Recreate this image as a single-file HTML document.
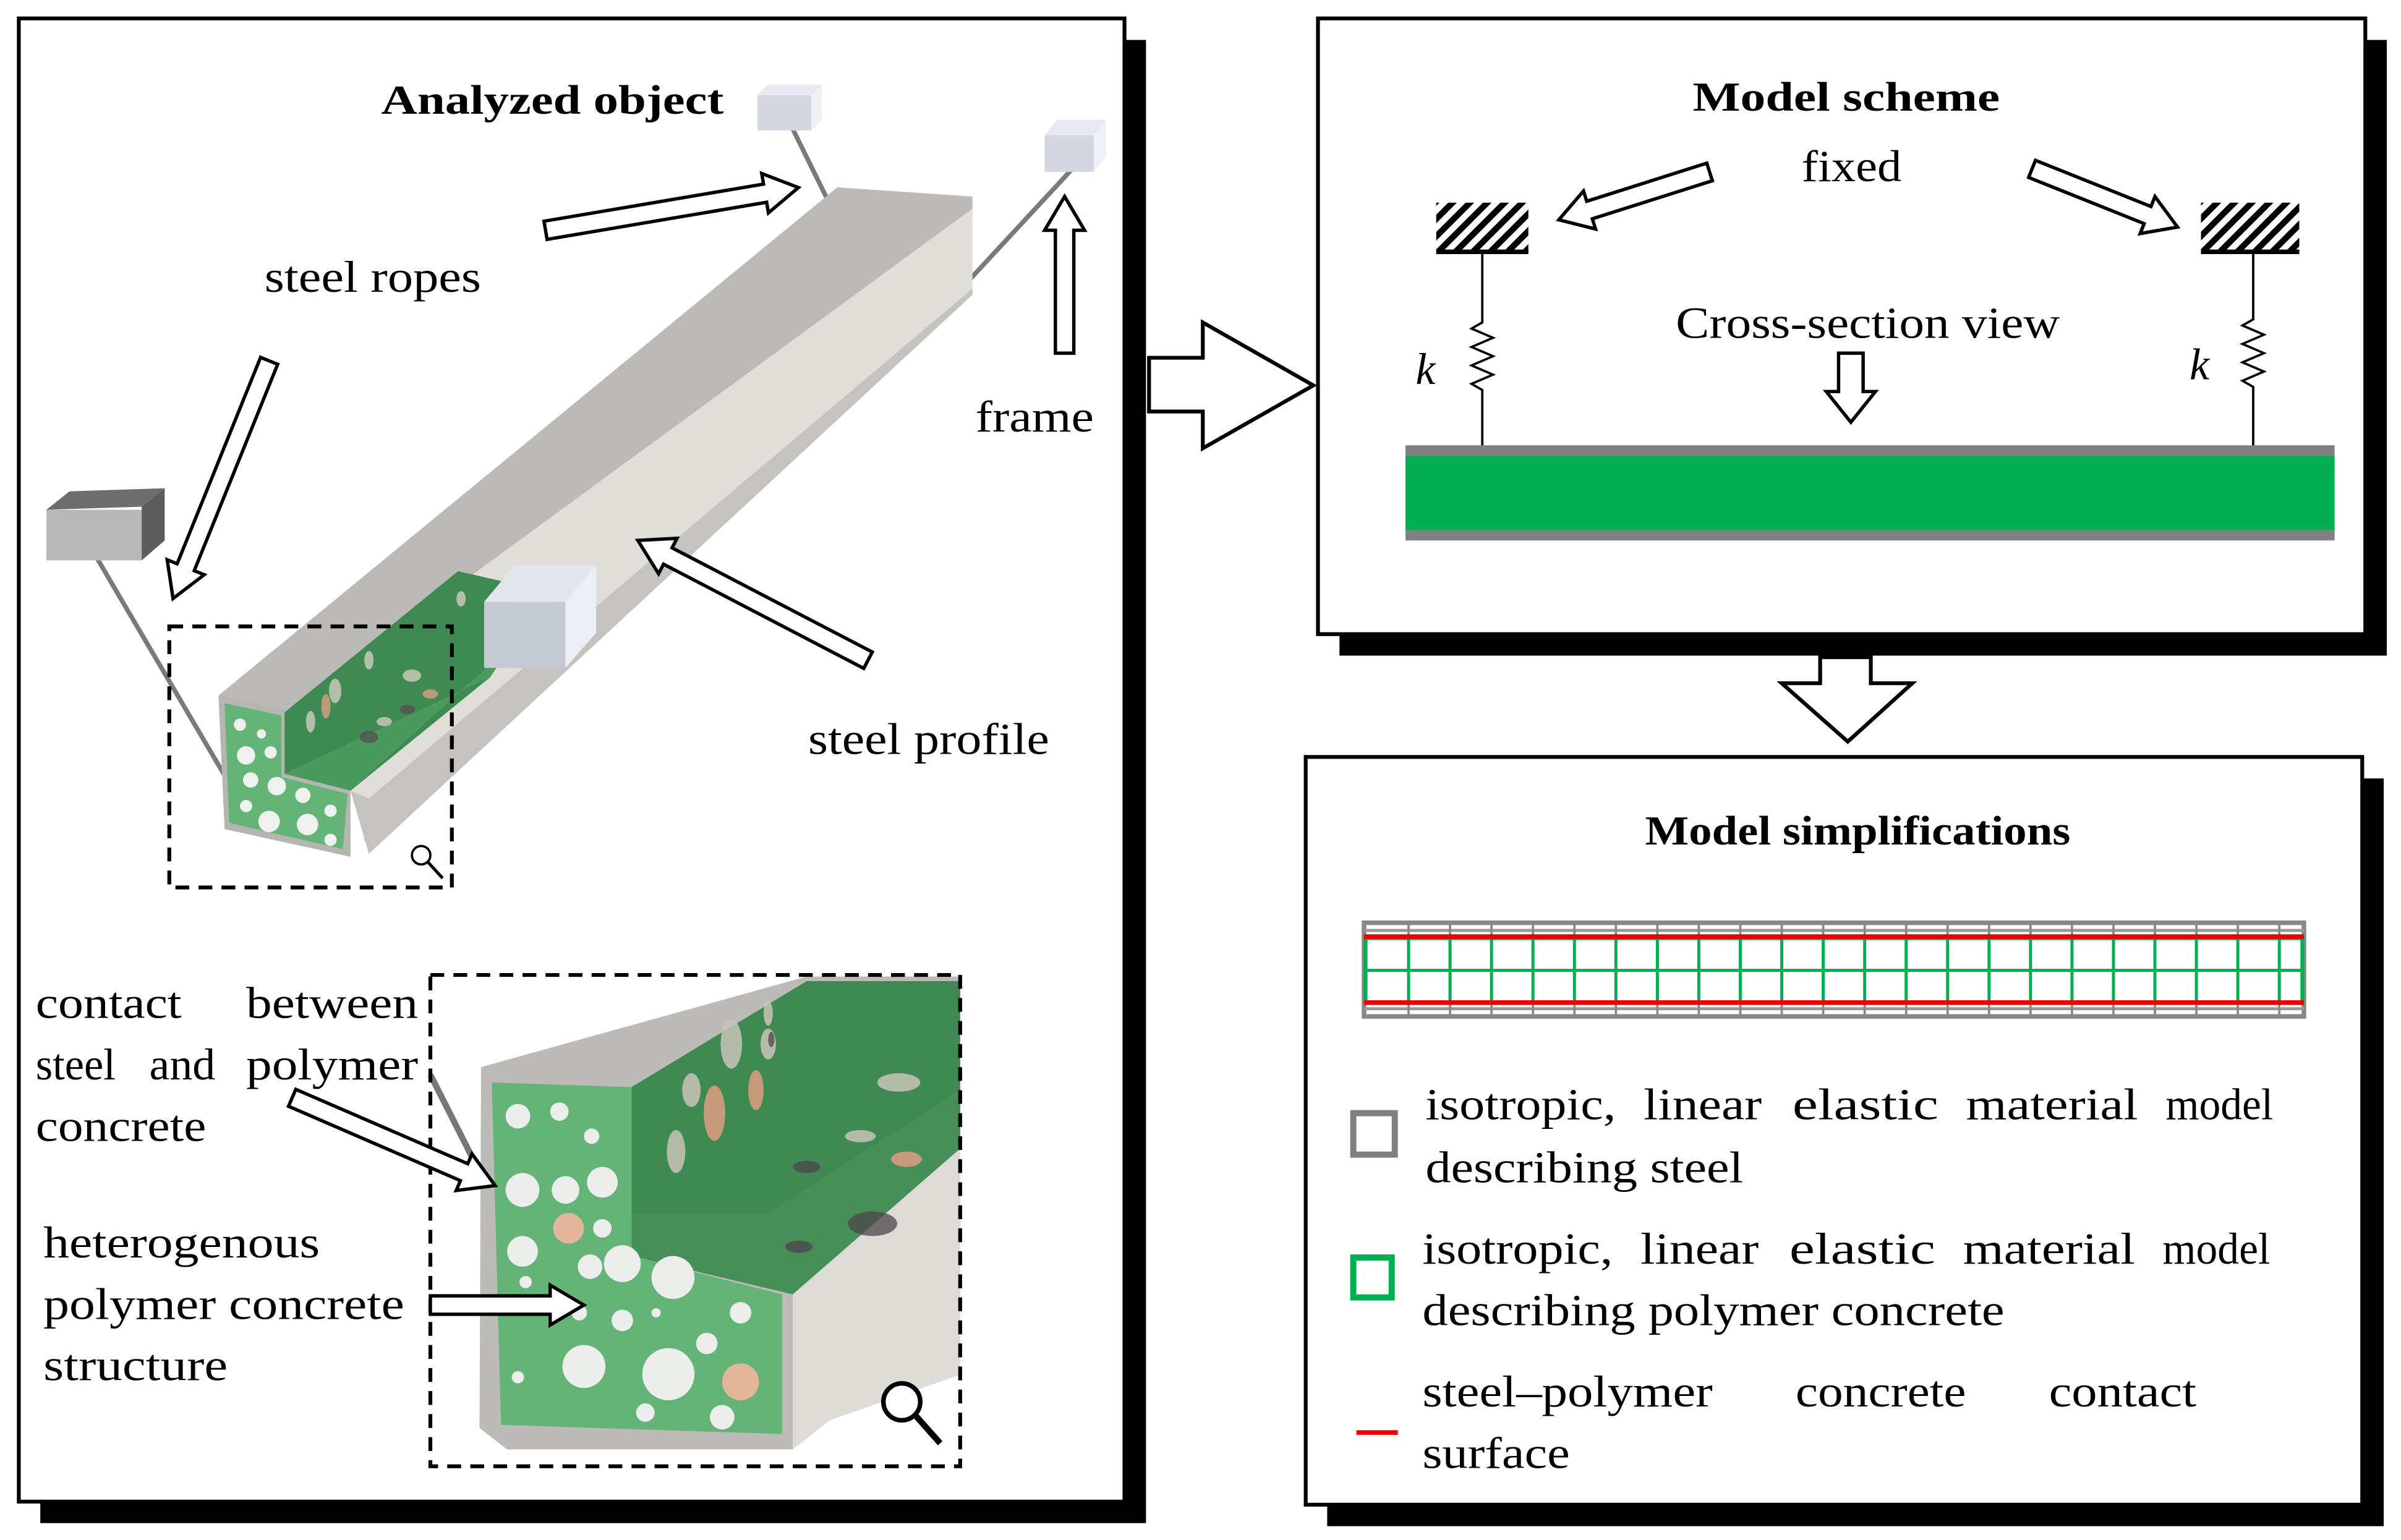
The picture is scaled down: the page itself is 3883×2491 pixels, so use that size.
<!DOCTYPE html>
<html><head><meta charset="utf-8"><style>
html,body{margin:0;padding:0;background:#fff;}
svg{display:block;}
text{font-family:"Liberation Serif",serif;fill:#000;}
</style></head><body>
<svg width="3883" height="2491" viewBox="0 0 1563 1003" xmlns="http://www.w3.org/2000/svg">
<defs>
<pattern id="hatch" width="8" height="8" patternUnits="userSpaceOnUse" patternTransform="rotate(45)"><rect width="4" height="8" fill="#000"/></pattern>
<clipPath id="dclip"><rect x="280" y="635" width="345" height="320"/></clipPath>
</defs>
<rect width="1563" height="1003" fill="#fff"/>

<!-- Panels with shadows -->
<rect x="26" y="26" width="720" height="966" fill="#000"/>
<rect x="12" y="12" width="720" height="966" fill="#fff" stroke="#000" stroke-width="2.5"/>
<rect x="872" y="26" width="682" height="401" fill="#000"/>
<rect x="858" y="12" width="682" height="401" fill="#fff" stroke="#000" stroke-width="2.5"/>
<rect x="864" y="507" width="688" height="487" fill="#000"/>
<rect x="850" y="493" width="688" height="487" fill="#fff" stroke="#000" stroke-width="2.5"/>

<!-- big right arrow -->
<polygon points="748,233 783,233 783,210 855,251 783,292 783,268 748,268" fill="#fff" stroke="#000" stroke-width="2.5"/>
<!-- down arrow -->
<polygon points="1185,428 1218,428 1218,445 1245,445 1203,483 1160,445 1185,445" fill="#fff" stroke="#000" stroke-width="2.5"/>

<!-- ===== Left panel ===== -->
<text x="248" y="74" font-size="27" font-weight="bold" textLength="223" lengthAdjust="spacingAndGlyphs">Analyzed object</text>

<!-- ropes -->
<g stroke="#7a7a7a" stroke-width="3" fill="none">
<line x1="62" y1="362" x2="146" y2="505"/>
<line x1="515" y1="82" x2="546" y2="145"/>
<line x1="698" y1="110" x2="622" y2="192"/>
<line x1="330" y1="432" x2="238" y2="548"/>
</g>
<!-- beam -->
<polygon points="142,453 545,122 633,128 633,136 185,464" fill="#bcbab6"/>
<polygon points="185,464 633,136 633,192 240,556 228,515" fill="#dfded9"/>
<polygon points="228,515 240,520 633,188 633,192 240,556" fill="#c4c3bf"/>
<polygon points="185,464 298,372 333,380 319,441 228,515 185,504" fill="#3f8a52"/>
<polygon points="185,504 319,441 333,420 228,515" fill="#4a9a5e"/>
<polygon points="142,453 185,462 185,504 228,515 228,558 146,540" fill="#b5b5b2"/>
<polygon points="146,458 183,466 183,506 226,517 223,553 149,536" fill="#65b477"/>
<g fill="#eef1ee">
<circle cx="156" cy="472" r="4"/><circle cx="170" cy="478" r="3"/><circle cx="160" cy="492" r="6"/><circle cx="176" cy="490" r="4"/><circle cx="163" cy="508" r="5"/><circle cx="180" cy="512" r="6"/><circle cx="197" cy="518" r="5"/><circle cx="160" cy="525" r="4"/><circle cx="175" cy="535" r="7"/><circle cx="200" cy="537" r="7"/><circle cx="215" cy="528" r="4"/><circle cx="215" cy="547" r="4"/>
</g>
<g fill="#c8c8b8" opacity="0.85">
<ellipse cx="202" cy="470" rx="3" ry="7"/><ellipse cx="218" cy="450" rx="4" ry="8"/><ellipse cx="240" cy="430" rx="3" ry="6"/><ellipse cx="268" cy="440" rx="6" ry="4"/><ellipse cx="250" cy="470" rx="5" ry="3"/><ellipse cx="300" cy="390" rx="3" ry="5"/>
</g>
<g fill="#d8a080" opacity="0.8"><ellipse cx="212" cy="460" rx="3" ry="8"/><ellipse cx="280" cy="452" rx="5" ry="3"/></g>
<g fill="#554a50" opacity="0.7"><ellipse cx="240" cy="480" rx="6" ry="4"/><ellipse cx="265" cy="462" rx="5" ry="3"/></g>
<!-- boxes -->
<polygon points="30,332 45,320 107,318 92,330" fill="#6d6d6d"/>
<rect x="30" y="332" width="62" height="33" fill="#b8b8b8"/>
<polygon points="92,330 107,318 107,352 92,365" fill="#5d5d5d"/>
<polygon points="315,392 335,368 388,368 368,392" fill="#e4e6ee"/>
<rect x="315" y="392" width="53" height="43" fill="#c6cad4"/>
<polygon points="368,392 388,368 388,412 368,435" fill="#eceef4"/>
<polygon points="493,62 500,55 535,55 528,62" fill="#e8e8f0"/>
<rect x="493" y="62" width="35" height="23" fill="#d4d6e0"/>
<polygon points="528,62 535,55 535,78 528,85" fill="#eef0f6"/>
<polygon points="680,88 688,78 720,78 712,88" fill="#e8e8f0"/>
<rect x="680" y="88" width="32" height="24" fill="#d4d6e0"/>
<polygon points="712,88 720,78 720,102 712,112" fill="#eef0f6"/>

<!-- dashed box small -->
<rect x="110" y="408" width="184" height="170" fill="none" stroke="#000" stroke-width="2.5" stroke-dasharray="9,6"/>
<circle cx="274" cy="557" r="6" fill="#fff" stroke="#000" stroke-width="1.5"/>
<line x1="278" y1="561" x2="288" y2="572" stroke="#000" stroke-width="2"/>

<!-- zoom detail -->
<line x1="280" y1="700" x2="318" y2="775" stroke="#777" stroke-width="4"/>
<g clip-path="url(#dclip)">
<line x1="540" y1="920" x2="630" y2="880" stroke="#777" stroke-width="5"/>
<polygon points="313,695 525,636 640,636 640,890 540,925 516,944 330,944 312,930" fill="#bdbbb7"/>
<polygon points="411,708 525,639 640,639 640,735 516,843 411,818" fill="#3f8a52"/>
<polygon points="411,818 516,843 640,735 640,700 500,790 411,790" fill="#468f58"/>
<polygon points="516,843 640,735 640,890 540,925 516,944" fill="#dcdbd6"/>
<polygon points="320,705 411,708 411,818 509,843 509,934 326,928" fill="#65b477"/>
<g fill="#eceeec">
<circle cx="337" cy="727" r="8"/><circle cx="364" cy="724" r="6"/><circle cx="385" cy="740" r="5"/><circle cx="340" cy="775" r="11"/><circle cx="368" cy="775" r="9"/><circle cx="392" cy="770" r="10"/><circle cx="392" cy="800" r="6"/><circle cx="340" cy="815" r="10"/><circle cx="384" cy="825" r="8"/><circle cx="405" cy="823" r="12"/><circle cx="438" cy="832" r="14"/><circle cx="342" cy="835" r="4"/><circle cx="377" cy="855" r="5"/><circle cx="405" cy="860" r="7"/><circle cx="427" cy="855" r="3"/><circle cx="482" cy="855" r="7"/><circle cx="460" cy="875" r="7"/><circle cx="380" cy="890" r="14"/><circle cx="435" cy="895" r="17"/><circle cx="337" cy="897" r="4"/><circle cx="420" cy="920" r="6"/><circle cx="470" cy="923" r="8"/>
</g>
<g fill="#e3b59a"><circle cx="370" cy="800" r="10"/><circle cx="482" cy="900" r="12"/></g>
<g fill="#c9c4b8" opacity="0.85">
<ellipse cx="450" cy="710" rx="6" ry="11"/><ellipse cx="476" cy="680" rx="7" ry="16"/><ellipse cx="500" cy="680" rx="5" ry="10"/><ellipse cx="440" cy="750" rx="6" ry="14"/><ellipse cx="585" cy="705" rx="14" ry="6"/><ellipse cx="560" cy="740" rx="10" ry="4"/><ellipse cx="500" cy="660" rx="3" ry="8"/>
</g>
<g fill="#de9d80" opacity="0.85"><ellipse cx="465" cy="725" rx="7" ry="18"/><ellipse cx="492" cy="710" rx="5" ry="13"/><ellipse cx="590" cy="755" rx="10" ry="5"/></g>
<g fill="#4f4449" opacity="0.75"><ellipse cx="568" cy="797" rx="16" ry="8"/><ellipse cx="525" cy="760" rx="9" ry="4"/><ellipse cx="520" cy="812" rx="9" ry="4"/><ellipse cx="502" cy="677" rx="2" ry="5"/></g>
</g>
<rect x="280" y="635" width="345" height="320" fill="none" stroke="#000" stroke-width="2.5" stroke-dasharray="9,6"/>
<circle cx="587" cy="913" r="12" fill="#fff" stroke="#000" stroke-width="3"/>
<line x1="596" y1="922" x2="612" y2="940" stroke="#000" stroke-width="4"/>

<!-- hollow arrows -->
<g fill="#fff" stroke="#000" stroke-width="2.2">
<polygon transform="translate(355,150) rotate(-9.6)" points="0,-6 145,-6 145,-13 167,0 145,13 145,6 0,6"/>
<polygon transform="translate(175,235) rotate(112)" points="0,-6 145,-6 145,-13 167,0 145,13 145,6 0,6"/>
<polygon transform="translate(693,230) rotate(-90)" points="0,-6 80,-6 80,-13 102,0 80,13 80,6 0,6"/>
<polygon transform="translate(565,430) rotate(207.5)" points="0,-6 147,-6 147,-13 169,0 147,13 147,6 0,6"/>
<polygon transform="translate(190,715) rotate(23.4)" points="0,-6 122,-6 122,-13 144,0 122,13 122,6 0,6"/>
<polygon transform="translate(280,850)" points="0,-6 78,-6 78,-13 100,0 78,13 78,6 0,6"/>
</g>

<g font-size="29">
<text x="172" y="190" textLength="141" lengthAdjust="spacingAndGlyphs">steel ropes</text>
<text x="635" y="281" textLength="77" lengthAdjust="spacingAndGlyphs">frame</text>
<text x="526" y="491" textLength="157" lengthAdjust="spacingAndGlyphs">steel profile</text>
<text x="23" y="663" textLength="95" lengthAdjust="spacingAndGlyphs">contact</text>
<text x="160" y="663" textLength="112" lengthAdjust="spacingAndGlyphs">between</text>
<text x="23" y="703" textLength="52" lengthAdjust="spacingAndGlyphs">steel</text>
<text x="97" y="703" textLength="43" lengthAdjust="spacingAndGlyphs">and</text>
<text x="160" y="703" textLength="112" lengthAdjust="spacingAndGlyphs">polymer</text>
<text x="23" y="743" textLength="111" lengthAdjust="spacingAndGlyphs">concrete</text>
<text x="28" y="819" textLength="180" lengthAdjust="spacingAndGlyphs">heterogenous</text>
<text x="28" y="859" textLength="235" lengthAdjust="spacingAndGlyphs">polymer concrete</text>
<text x="28" y="899" textLength="120" lengthAdjust="spacingAndGlyphs">structure</text>
</g>

<!-- ===== Model scheme ===== -->
<text x="1102" y="72" font-size="27" font-weight="bold" textLength="200" lengthAdjust="spacingAndGlyphs">Model scheme</text>
<text x="1173" y="118" font-size="29" textLength="65" lengthAdjust="spacingAndGlyphs">fixed</text>
<text x="1091" y="220" font-size="29" textLength="250" lengthAdjust="spacingAndGlyphs">Cross-section view</text>
<g fill="#fff" stroke="#000" stroke-width="2.2">
<polygon transform="translate(1113,112) rotate(162.4)" points="0,-6 82,-6 82,-13 103,0 82,13 82,6 0,6"/>
<polygon transform="translate(1323,110) rotate(21.8)" points="0,-6 81,-6 81,-13 102,0 81,13 81,6 0,6"/>
<polygon transform="translate(1205,230) rotate(90)" points="0,-8 25,-8 25,-16 45,0 25,16 25,8 0,8"/>
</g>
<rect x="935" y="132" width="60" height="32" fill="url(#hatch)"/>
<line x1="935" y1="164" x2="995" y2="164" stroke="#000" stroke-width="3"/>
<rect x="1433" y="132" width="64" height="32" fill="url(#hatch)"/>
<line x1="1433" y1="164" x2="1497" y2="164" stroke="#000" stroke-width="3"/>
<g fill="none" stroke="#000" stroke-width="1.5">
<polyline points="965,165 965,210 958,214 972,220 958,226 972,232 958,238 972,244 958,250 965,254 965,292"/>
<polyline points="1467,165 1467,208 1460,212 1474,218 1460,224 1474,230 1460,236 1474,242 1460,248 1467,252 1467,292"/>
</g>
<text x="928" y="250" font-size="29" font-style="italic" text-anchor="middle">k</text>
<text x="1432" y="247" font-size="29" font-style="italic" text-anchor="middle">k</text>
<rect x="915" y="290" width="605" height="62" fill="#808080"/>
<rect x="915" y="297" width="605" height="48" fill="#00b050"/>

<!-- ===== Model simplifications ===== -->
<text x="1071" y="550" font-size="27" font-weight="bold" textLength="277" lengthAdjust="spacingAndGlyphs">Model simplifications</text>
<rect x="888" y="601" width="612" height="61" fill="none" stroke="#888" stroke-width="3"/>
<line x1="888" y1="606" x2="1500" y2="606" stroke="#999" stroke-width="2"/>
<line x1="888" y1="657" x2="1500" y2="657" stroke="#999" stroke-width="2"/>
<g stroke="#888" stroke-width="1.5">
<path d="M917,601V612M944,601V612M971,601V612M998,601V612M1025,601V612M1052,601V612M1079,601V612M1106,601V612M1133,601V612M1160,601V612M1187,601V612M1214,601V612M1241,601V612M1268,601V612M1295,601V612M1322,601V612M1349,601V612M1376,601V612M1403,601V612M1430,601V612M1457,601V612M1484,601V612"/>
<path d="M917,652V662M944,652V662M971,652V662M998,652V662M1025,652V662M1052,652V662M1079,652V662M1106,652V662M1133,652V662M1160,652V662M1187,652V662M1214,652V662M1241,652V662M1268,652V662M1295,652V662M1322,652V662M1349,652V662M1376,652V662M1403,652V662M1430,652V662M1457,652V662M1484,652V662"/>
</g>
<rect x="889" y="611" width="610" height="42" fill="none" stroke="#00b050" stroke-width="2.5"/>
<line x1="889" y1="632" x2="1499" y2="632" stroke="#00b050" stroke-width="2"/>
<path d="M917,611V653M944,611V653M971,611V653M998,611V653M1025,611V653M1052,611V653M1079,611V653M1106,611V653M1133,611V653M1160,611V653M1187,611V653M1214,611V653M1241,611V653M1268,611V653M1295,611V653M1322,611V653M1349,611V653M1376,611V653M1403,611V653M1430,611V653M1457,611V653M1484,611V653" stroke="#00b050" stroke-width="2"/>
<line x1="888" y1="610" x2="1500" y2="610" stroke="#e00" stroke-width="3"/>
<line x1="888" y1="653" x2="1500" y2="653" stroke="#e00" stroke-width="3"/>

<rect x="881" y="725" width="27" height="27" fill="none" stroke="#808080" stroke-width="4"/>
<rect x="881" y="819" width="25" height="26" fill="none" stroke="#00b050" stroke-width="4"/>
<line x1="883" y1="933" x2="910" y2="933" stroke="#e00" stroke-width="3"/>
<g font-size="29">
<text x="928" y="729" textLength="124" lengthAdjust="spacingAndGlyphs">isotropic,</text>
<text x="1070" y="729" textLength="77" lengthAdjust="spacingAndGlyphs">linear</text>
<text x="1167" y="729" textLength="95" lengthAdjust="spacingAndGlyphs">elastic</text>
<text x="1280" y="729" textLength="112" lengthAdjust="spacingAndGlyphs">material</text>
<text x="1410" y="729" textLength="70" lengthAdjust="spacingAndGlyphs">model</text>
<text x="928" y="770" textLength="207" lengthAdjust="spacingAndGlyphs">describing steel</text>
<text x="926" y="823" textLength="124" lengthAdjust="spacingAndGlyphs">isotropic,</text>
<text x="1068" y="823" textLength="77" lengthAdjust="spacingAndGlyphs">linear</text>
<text x="1165" y="823" textLength="95" lengthAdjust="spacingAndGlyphs">elastic</text>
<text x="1278" y="823" textLength="112" lengthAdjust="spacingAndGlyphs">material</text>
<text x="1408" y="823" textLength="70" lengthAdjust="spacingAndGlyphs">model</text>
<text x="926" y="863" textLength="379" lengthAdjust="spacingAndGlyphs">describing polymer concrete</text>
<text x="926" y="916" textLength="189" lengthAdjust="spacingAndGlyphs">steel–polymer</text>
<text x="1169" y="916" textLength="111" lengthAdjust="spacingAndGlyphs">concrete</text>
<text x="1334" y="916" textLength="96" lengthAdjust="spacingAndGlyphs">contact</text>
<text x="926" y="956" textLength="96" lengthAdjust="spacingAndGlyphs">surface</text>
</g>
</svg>
</body></html>
